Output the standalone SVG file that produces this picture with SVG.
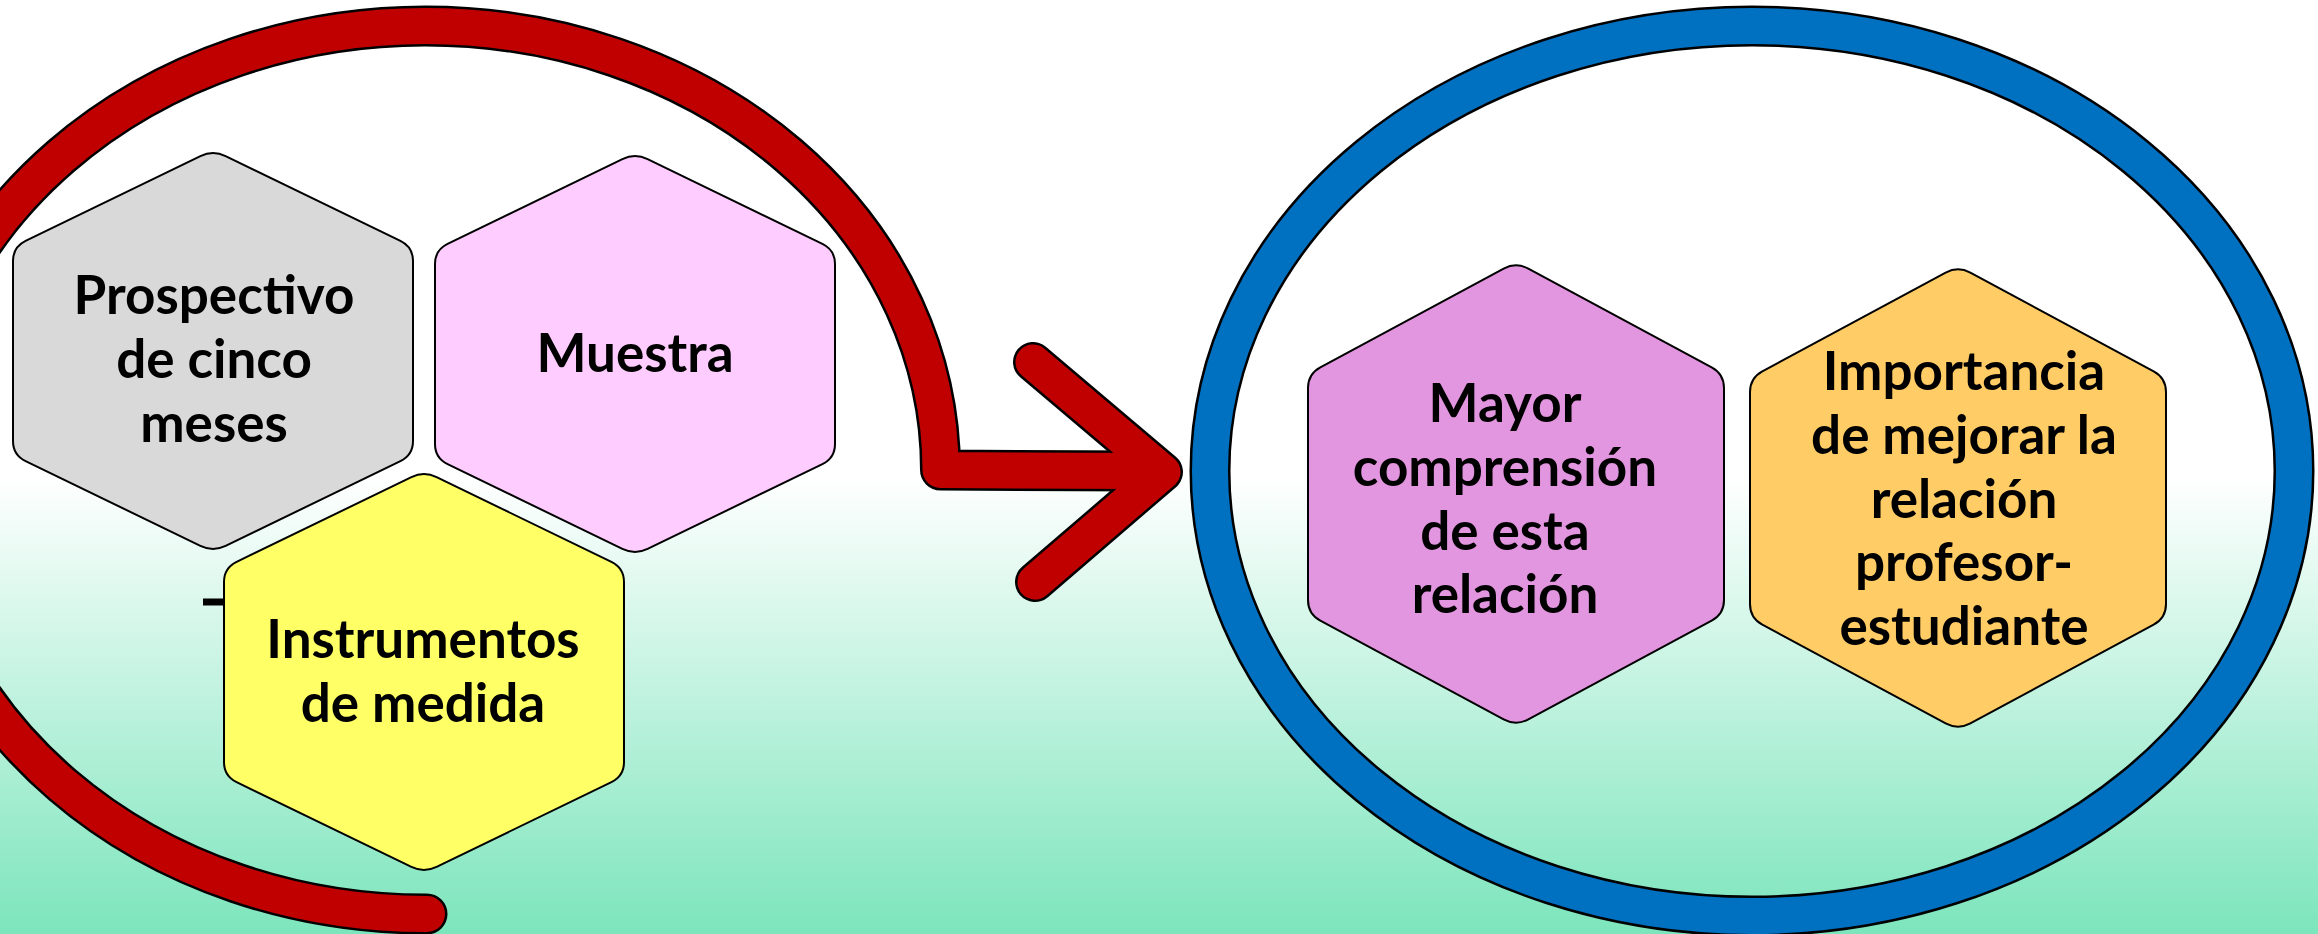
<svg xmlns="http://www.w3.org/2000/svg" xmlns:xlink="http://www.w3.org/1999/xlink" width="2318" height="934" viewBox="0 0 2318 934">
<defs>
<linearGradient id="bg" gradientUnits="userSpaceOnUse" x1="0" y1="0" x2="0" y2="934">
<stop offset="0" stop-color="#FFFFFF"/>
<stop offset="0.51" stop-color="#FFFFFF"/>
<stop offset="1" stop-color="#7CE5BC"/>
</linearGradient>
<path id="hexA" d="M -12.6 6.11 Q 0 0 12.6 6.11 L 187.4 90.89 Q 200 97 200 111 L 200 291 Q 200 305 187.4 311.11 L 12.6 395.89 Q 0 402 -12.6 395.89 L -187.4 311.11 Q -200 305 -200 291 L -200 111 Q -200 97 -187.4 90.89 Z"/>
<path id="hexB" d="M -12.33 6.64 Q 0 0 12.33 6.64 L 195.67 105.36 Q 208 112 208 126 L 208 338 Q 208 352 195.67 358.64 L 12.33 457.36 Q 0 464 -12.33 457.36 L -195.67 358.64 Q -208 352 -208 338 L -208 126 Q -208 112 -195.67 105.36 Z"/>
<style>
.hex{stroke:#000;stroke-width:2}
.t{font-family:Lato,"Liberation Sans",sans-serif;font-weight:700;font-size:53px;fill:#000;text-anchor:middle}
.k{fill:none;stroke:#000;stroke-linecap:round;stroke-linejoin:round}
.r{fill:none;stroke:#C00000;stroke-linecap:round;stroke-linejoin:round}
</style>
</defs>
<rect x="0" y="0" width="2318" height="934" fill="url(#bg)"/>

<g id="connectors">
<g id="ring">
<ellipse cx="1752" cy="471" rx="542" ry="445" fill="none" stroke="#000" stroke-width="41"/>
<ellipse cx="1752" cy="471" rx="542" ry="445" fill="none" stroke="#0070C0" stroke-width="36"/>
</g>
<g id="circular-arrow">
<path class="k" stroke-width="41" d="M 427 914 A 515 444 0 1 1 940.5 470 L 1140 471"/>
<path class="k" stroke-width="40" d="M 1033 362 L 1163 472 L 1035 582"/>
<path class="r" stroke-width="36" d="M 427 914 A 515 444 0 1 1 940.5 470 L 1140 471"/>
<path class="r" stroke-width="35" d="M 1033 362 L 1163 472 L 1035 582"/>
</g>
</g>

<rect x="203" y="598.5" width="24" height="7" fill="#000"/>

<g id="node-prospectivo">
<use xlink:href="#hexA" class="hex" fill="#D9D9D9" transform="translate(213 150)"/>
<text class="t" x="214" y="314">Prospectivo</text>
<text class="t" x="214" y="378">de cinco</text>
<text class="t" x="214" y="442">meses</text>
</g>

<g id="node-muestra">
<use xlink:href="#hexA" class="hex" fill="#FFCCFF" transform="translate(635 153)"/>
<text class="t" x="635" y="372">Muestra</text>
</g>

<g id="node-instrumentos">
<use xlink:href="#hexA" class="hex" fill="#FFFF66" transform="translate(424 471)"/>
<text class="t" x="423" y="658">Instrumentos</text>
<text class="t" x="423" y="722">de medida</text>
</g>

<g id="node-mayor">
<use xlink:href="#hexB" class="hex" fill="#E396E0" transform="translate(1516 262)"/>
<text class="t" x="1505" y="422">Mayor</text>
<text class="t" x="1505" y="486">comprensión</text>
<text class="t" x="1505" y="550">de esta</text>
<text class="t" x="1505" y="613">relación</text>
</g>

<g id="node-importancia">
<use xlink:href="#hexB" class="hex" fill="#FFCC66" transform="translate(1958 266)"/>
<text class="t" x="1964" y="390">Importancia</text>
<text class="t" x="1964" y="454">de mejorar la</text>
<text class="t" x="1964" y="518">relación</text>
<text class="t" x="1964" y="581">profesor-</text>
<text class="t" x="1964" y="645">estudiante</text>
</g>
</svg>
